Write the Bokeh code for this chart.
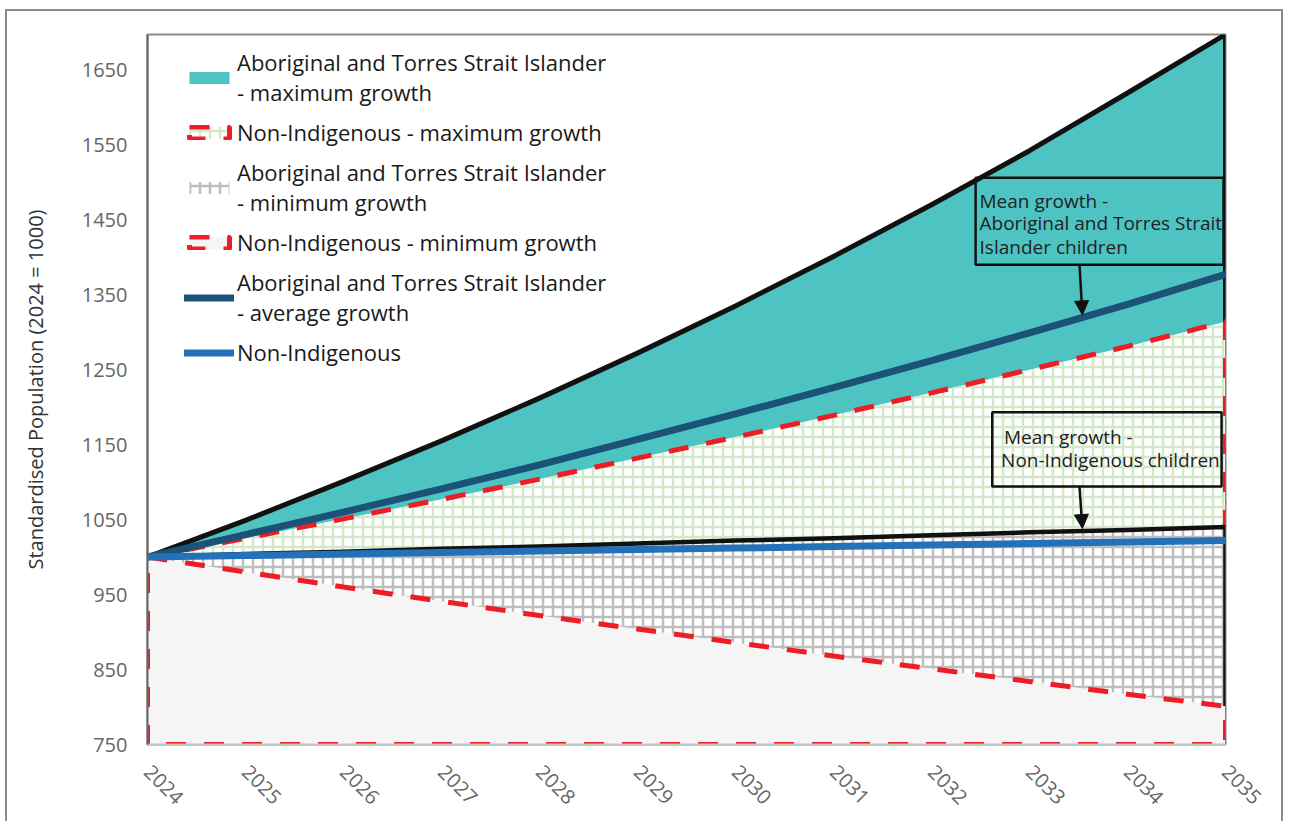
from bokeh.plotting import figure
from bokeh.models import (Legend, LegendItem, FixedTicker, Range1d, BoxAnnotation,
                          Label, Arrow, NormalHead)
from bokeh.embed import file_html
from bokeh.resources import INLINE

# ---------------- data ----------------
years = [2024, 2025, 2026, 2027, 2028, 2029, 2030, 2031, 2032, 2033, 2034, 2035]
atsi_max = [1000, 1049, 1101, 1155, 1212, 1272, 1335, 1401, 1470, 1542, 1619, 1697]
atsi_avg = [1000, 1030, 1060, 1091, 1123, 1157, 1191, 1226, 1262, 1299, 1337, 1377]
nonind_max = [1000, 1025, 1051, 1077, 1104, 1132, 1160, 1189, 1219, 1250, 1281, 1314]
atsi_min = [1000, 1004, 1007, 1011, 1014, 1018, 1022, 1025, 1029, 1033, 1036, 1040]
nonind_min = [1000, 980, 960, 941, 922, 904, 886, 868, 851, 834, 817, 801]
nonind = [1000, 1002, 1004, 1006, 1008, 1010, 1012, 1014, 1016, 1018, 1020, 1022]

y_ticks = [750, 850, 950, 1050, 1150, 1250, 1350, 1450, 1550, 1650]
x_ticks = years

legend_labels = [
    "Aboriginal and Torres Strait Islander\n- maximum growth",
    "Non-Indigenous - maximum growth",
    "Aboriginal and Torres Strait Islander\n- minimum growth",
    "Non-Indigenous - minimum growth",
    "Aboriginal and Torres Strait Islander\n- average growth",
    "Non-Indigenous",
]
y_label = "Standardised Population (2024 = 1000)"
note1 = ["Mean growth -", "Aboriginal and Torres Strait", "Islander children"]
note2 = ["Mean growth -", "Non-Indigenous children"]

# ---------------- styles ----------------
FONT = "Open Sans"
BASE = 750
Y_END = 1697
TEAL = "#4dc4c2"
DARKBLUE = "#1b5276"
BLUE = "#2271b9"
RED = "#ee1c25"
BLACK = "#111111"
GREEN_H = "#d3e8c8"
GREY_H = "#bdbdbd"
LIGHT = "#f5f5f5"

p = figure(width=1278, height=812, output_backend="svg", toolbar_location=None,
           x_range=Range1d(years[0], years[-1]), y_range=Range1d(BASE, Y_END),
           min_border_left=140, min_border_top=23, min_border_right=60,
           min_border_bottom=79)
p.styles = {"border-left": "2px solid #8c8c8c", "border-top": "2px solid #8c8c8c",
            "border-right": "2px solid #8c8c8c", "margin-left": "5px",
            "margin-top": "9px"}
p.grid.visible = False
p.outline_line_color = "#8c8c8c"
p.outline_line_width = 2
p.background_fill_color = "white"
p.border_fill_color = "white"

# closed polygons down to the baseline
def poly(vals):
    return years + [years[-1], years[0]], vals + [BASE, BASE]

xs, ys = poly(atsi_max)
r1 = p.patch(xs, ys, fill_color=TEAL, line_color=None)
p.patch(xs, ys, fill_alpha=0, line_color=BLACK, line_width=5, line_join="round")

xs, ys = poly(nonind_max)
r2 = p.patch(xs, ys, fill_color="white", hatch_pattern="+", hatch_color=GREEN_H,
             hatch_scale=10, hatch_weight=2.5, line_color=RED, line_width=5,
             line_dash="20 18")

xs, ys = poly(atsi_min)
r3 = p.patch(xs, ys, fill_color="white", hatch_pattern="+", hatch_color=GREY_H,
             hatch_scale=10, hatch_weight=2.5, line_color=None)
p.patch(xs, ys, fill_alpha=0, line_color=BLACK, line_width=4.5, line_join="round")

xs, ys = poly(nonind_min)
r4 = p.patch(xs, ys, fill_color=LIGHT, line_color=RED, line_width=5, line_dash="20 18")

r5 = p.line(years, atsi_avg, line_color=DARKBLUE, line_width=7, line_cap="round")
r6 = p.line(years, nonind, line_color=BLUE, line_width=7, line_cap="round")

# ---------------- axes ----------------
p.xaxis.ticker = FixedTicker(ticks=x_ticks)
p.yaxis.ticker = FixedTicker(ticks=y_ticks)
for ax in (p.xaxis[0], p.yaxis[0]):
    ax.major_tick_line_color = None
    ax.minor_tick_line_color = None
    ax.major_tick_out = 0
    ax.major_tick_in = 0
    ax.minor_tick_out = 0
    ax.major_label_text_font = FONT
    ax.major_label_text_color = "#666666"
    ax.major_label_text_font_size = "20px"
p.yaxis.axis_line_color = "#666666"
p.yaxis.axis_line_width = 2
p.xaxis.axis_line_color = "#c8c8c8"
p.xaxis.axis_line_width = 2
p.yaxis.major_label_standoff = 20
p.xaxis.major_label_standoff = 24
p.xaxis.major_label_orientation = -0.785
p.yaxis.axis_label = y_label
p.yaxis.axis_label_text_font = FONT
p.yaxis.axis_label_text_font_style = "normal"
p.yaxis.axis_label_text_font_size = "20px"
p.yaxis.axis_label_text_color = "#333333"
p.yaxis.axis_label_standoff = 30

# ---------------- legend ----------------
legend = Legend(items=[LegendItem(label=l, renderers=[r]) for l, r in
                       zip(legend_labels, [r1, r2, r3, r4, r5, r6])],
                location=(37, 377), margin=0, padding=0, spacing=10,
                glyph_width=50, glyph_height=15, label_standoff=3,
                label_text_font=FONT, label_text_font_size="22px",
                label_text_color="#1a1a1a", label_text_line_height=0.8,
                border_line_alpha=0, background_fill_alpha=0)
p.add_layout(legend)

# ---------------- annotations ----------------
p.add_layout(BoxAnnotation(left=2032.45, right=2034.98, top=1506, bottom=1390,
                           fill_alpha=0, line_color=BLACK, line_alpha=1,
                           line_width=2.5))
p.add_layout(BoxAnnotation(left=2032.62, right=2034.96, top=1193, bottom=1094,
                           fill_alpha=0, line_color=BLACK, line_alpha=1,
                           line_width=2.5))
for txt, yy in zip(note1, [1475, 1446, 1414]):
    p.add_layout(Label(x=2032.49, y=yy, text=txt, text_font=FONT,
                       text_font_size="19px", text_baseline="middle",
                       text_color="#222222"))
for txt, xx, yy in zip(note2, [2032.74, 2032.71], [1160, 1130]):
    p.add_layout(Label(x=xx, y=yy, text=txt, text_font=FONT,
                       text_font_size="19px", text_baseline="middle",
                       text_color="#222222"))
p.add_layout(Arrow(end=NormalHead(size=14, fill_color=BLACK, line_color=BLACK),
                   x_start=2033.51, y_start=1390, x_end=2033.54, y_end=1323,
                   line_color=BLACK, line_width=2.5))
p.add_layout(Arrow(end=NormalHead(size=14, fill_color=BLACK, line_color=BLACK),
                   x_start=2033.51, y_start=1094, x_end=2033.54, y_end=1038,
                   line_color=BLACK, line_width=2.5))

open("out.html", "w").write(file_html(p, INLINE))
